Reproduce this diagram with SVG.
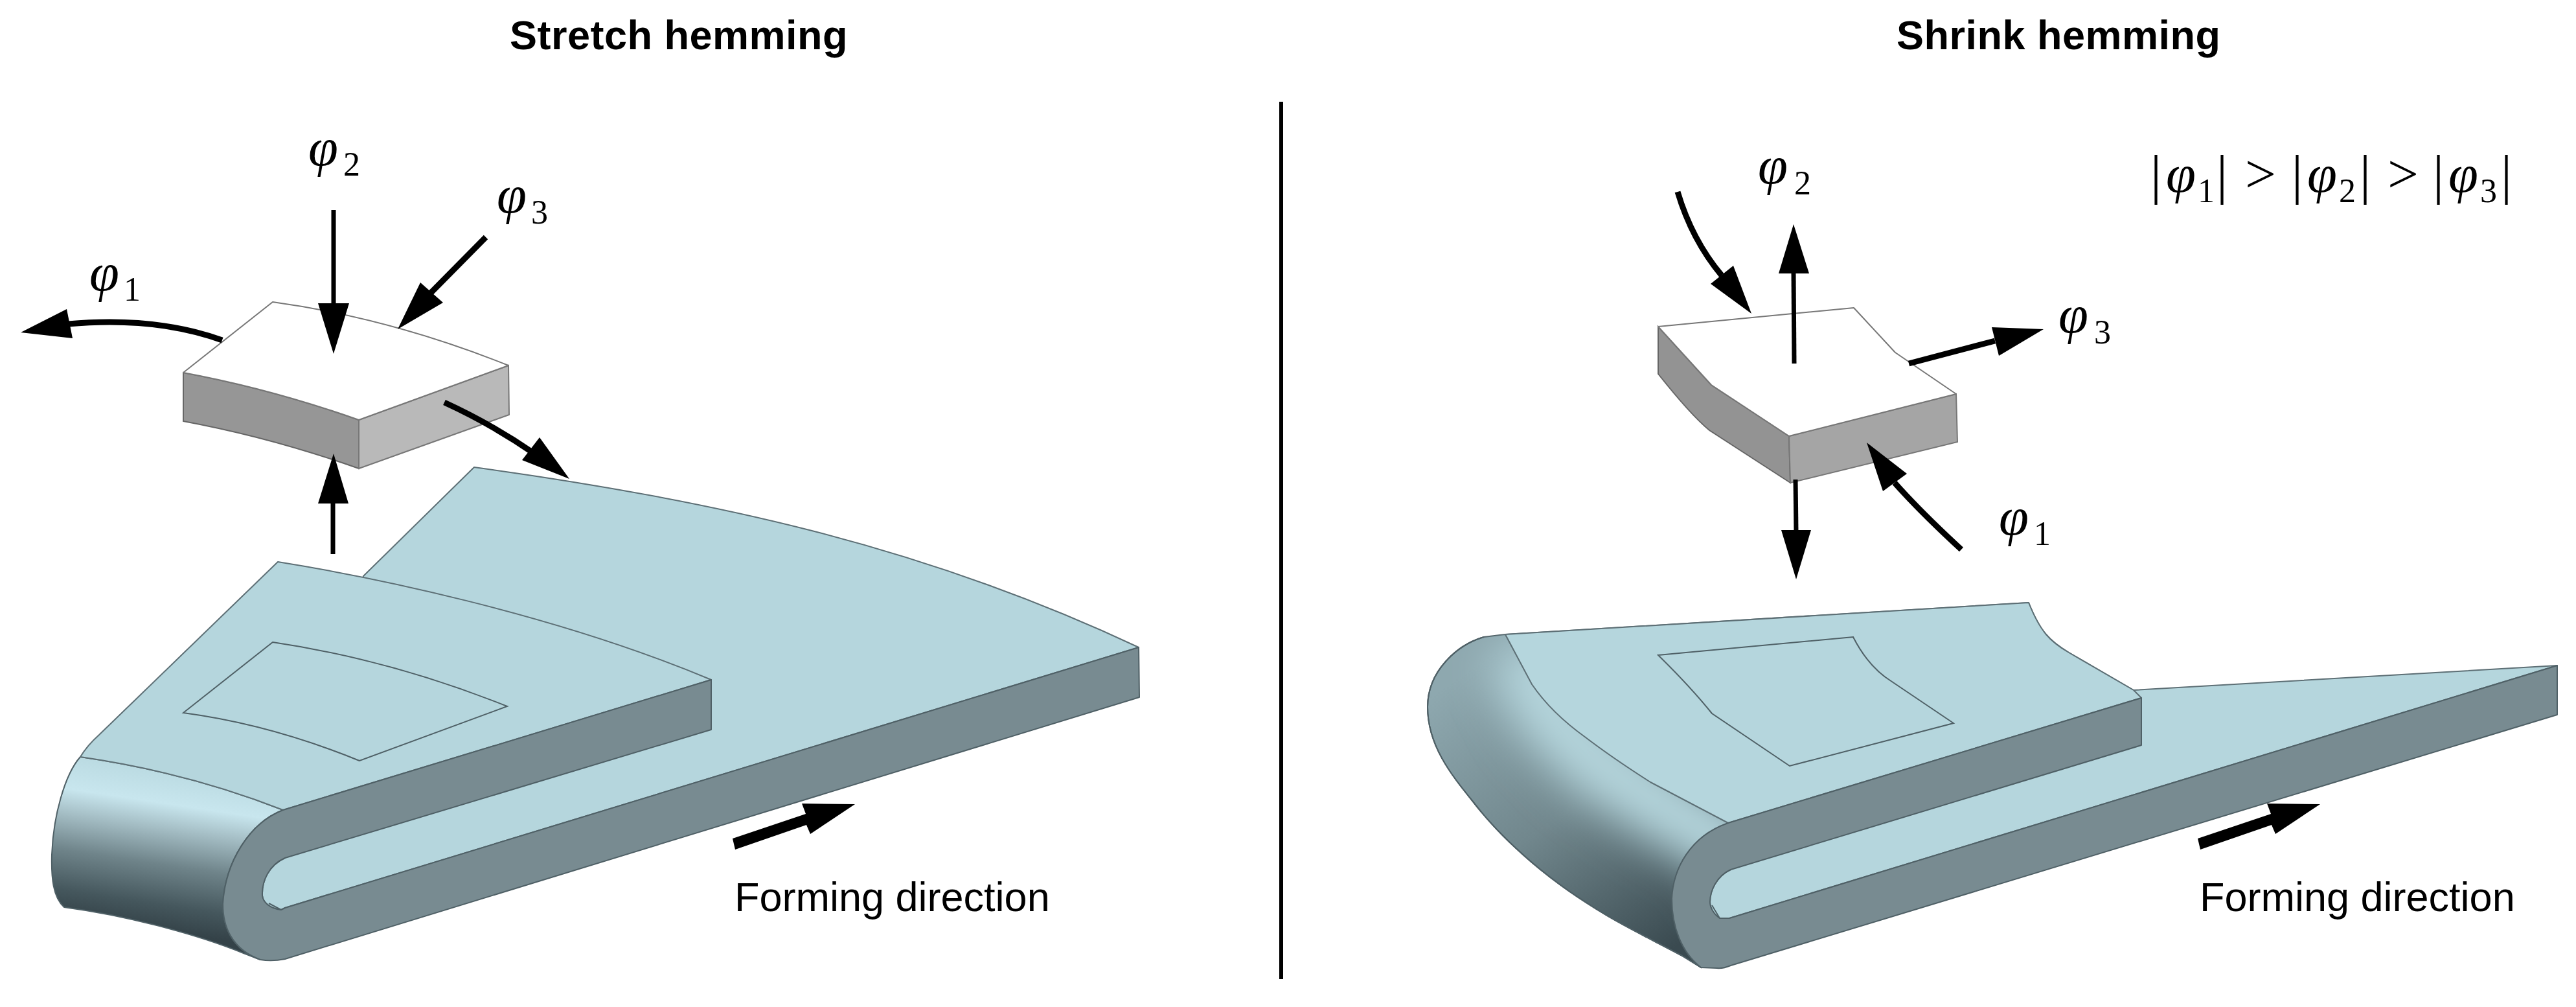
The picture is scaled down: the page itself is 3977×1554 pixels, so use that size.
<svg xmlns="http://www.w3.org/2000/svg" width="3977" height="1554" viewBox="0 0 3977 1554">
<style>
.face{fill:#b5d6dd;stroke:#5d6f75;stroke-width:2;stroke-linejoin:round}
.side{fill:#788b91;stroke:#4f6066;stroke-width:2;stroke-linejoin:round}
.edge{fill:none;stroke:#4f6066;stroke-width:2}
.blockTop{fill:#fff;stroke:#777;stroke-width:2;stroke-linejoin:round}
.shaft{fill:none;stroke:#000;stroke-width:9}
.thin{stroke-width:7}
.head{fill:#000}
.title{font:bold 63px "Liberation Sans",Arial,sans-serif;fill:#000;letter-spacing:.5px}
.label{font:63px "Liberation Sans",Arial,sans-serif;fill:#000}
.phi{font:italic 83px "Liberation Serif","Times New Roman",serif;fill:#000}
.sub{font:52px "Liberation Serif","Times New Roman",serif;fill:#000}
.rel{font:85px "Liberation Serif","Times New Roman",serif;fill:#000}
</style>
<defs>
<linearGradient id="leftShade" gradientUnits="userSpaceOnUse" x1="245" y1="1165" x2="205" y2="1430">
<stop offset="0" stop-color="#b5d6dd"/><stop offset=".27" stop-color="#c8e6ee"/><stop offset=".42" stop-color="#a3bcc3"/><stop offset=".62" stop-color="#6f848a"/><stop offset=".85" stop-color="#45575d"/><stop offset="1" stop-color="#344248"/>
</linearGradient>
<linearGradient id="rightBase" gradientUnits="userSpaceOnUse" x1="2260" y1="1040" x2="2560" y2="1480">
<stop offset="0" stop-color="#8ea8af"/><stop offset=".5" stop-color="#71878d"/><stop offset="1" stop-color="#3a4a50"/>
</linearGradient>
<filter id="soft" x="-30%" y="-30%" width="160%" height="160%"><feGaussianBlur stdDeviation="34"/></filter>
<clipPath id="rightClip"><path d="M2324,979 L2291,983 C2250,995 2204,1035 2204,1091 C2204,1150 2240,1195 2274,1237 C2305,1277 2335,1305 2365,1331 C2405,1365 2440,1388 2481,1413 C2520,1436 2560,1455 2597,1475 L2626,1493 L2620,1300 L2668,1270 L2548,1207 L2448,1138 L2365,1056 Z"/></clipPath>
</defs>

<g id="title-left"><text class="title" x="787" y="76">Stretch hemming</text></g>
<g id="title-right"><text class="title" x="2928" y="76">Shrink hemming</text></g>
<g id="divider"><line x1="1978" y1="157" x2="1978" y2="1511" stroke="#000" stroke-width="6"/></g>

<g id="stretch-part">
<path class="face" d="M732,721 C1090,770 1420,840 1758,999 L440,1401 L434,1404 C416,1402 406,1392 405,1382 C404,1360 415,1335 440,1324 L561,889 Z"/>
<path d="M124,1168 C100,1195 82,1260 80,1319 C79,1355 82,1385 99,1400 C190,1412 300,1440 376,1471 L402,1481 C358,1465 344,1430 344,1395 C348,1330 385,1270 437,1250 Q290,1192 124,1168 Z" fill="url(#leftShade)" stroke="#4f6066" stroke-width="2"/>
<path class="face" d="M429,867 C560,888 850,945 1098,1049 L437,1250 Q290,1192 124,1168 Q135,1150 153,1134 Z"/>
<path class="side" d="M437,1250 L1098,1049 L1098,1126 L440,1324 C415,1335 404,1360 405,1382 C406,1392 416,1402 434,1404 L440,1401 L1758,999 L1759,1076 L440,1480 Q420,1484 402,1481 C358,1465 344,1430 344,1395 C348,1330 385,1270 437,1250 Z"/>
<path class="edge" d="M415,1394 L434,1404"/>
<path class="edge" d="M421,991 Q603,1018 783,1090 L555,1174 Q418,1118 283,1100 Z"/>
</g>

<g id="stretch-element">
<path d="M283,575 Q418,600 554,648 L554,723 Q418,675 283,650 Z" fill="#969696" stroke="#666" stroke-width="2"/>
<path d="M554,648 L785,564 L786,640 L554,723 Z" fill="#b9b9b9" stroke="#777" stroke-width="2"/>
<path class="blockTop" d="M421,466 Q603,491 785,564 L554,648 Q418,600 283,575 Z"/>
</g>

<g id="shrink-part">
<path class="face" d="M2324,979 L3132,930 C3150,975 3165,990 3194,1007 L3294,1065 L3948,1027 L2670,1417 L2655,1417 C2645,1410 2640,1400 2640,1392 C2640,1375 2650,1352 2672,1342 Z"/>
<path d="M2324,979 L2291,983 C2250,995 2204,1035 2204,1091 C2204,1150 2240,1195 2274,1237 C2305,1277 2335,1305 2365,1331 C2405,1365 2440,1388 2481,1413 C2520,1436 2560,1455 2597,1475 L2626,1493 L2620,1300 L2668,1270 L2548,1207 L2448,1138 L2365,1056 Z" fill="url(#rightBase)" stroke="#4f6066" stroke-width="2"/>
<g clip-path="url(#rightClip)"><path d="M2345,1000 L2395,1100 L2460,1170 L2560,1240 L2680,1310 L2700,1380" fill="none" stroke="#b5d6dd" stroke-width="110" filter="url(#soft)"/></g>
<path class="side" style="fill:none" d="M2291,983 C2250,995 2204,1035 2204,1091 C2204,1150 2240,1195 2274,1237 C2305,1277 2335,1305 2365,1331 C2405,1365 2440,1388 2481,1413 C2520,1436 2560,1455 2597,1475 L2626,1493"/>
<path class="face" d="M2324,979 L3132,930 C3150,975 3165,990 3194,1007 L3294,1065 L3306,1077 L2668,1270 L2548,1207 Q2490,1170 2448,1138 Q2395,1100 2365,1056 Z"/>
<path class="side" d="M2668,1270 L3306,1077 L3306,1150 L2672,1342 C2650,1352 2640,1375 2640,1392 C2640,1400 2645,1410 2655,1417 L2670,1417 L3948,1027 L3948,1103 L2672,1490 Q2660,1495 2651,1494 L2626,1493 C2596,1470 2581,1430 2581,1387 C2583,1340 2610,1290 2668,1270 Z"/>
<path class="edge" d="M2643,1397 L2655,1417"/>
<path class="edge" d="M2560,1011 L2861,983 Q2885,1030 2921,1052 L3016,1116 L2763,1182 L2643,1101 Q2610,1060 2560,1011 Z"/>
</g>

<g id="shrink-element">
<path d="M2560,504 L2642,594 L2762,673 L2764,745 L2639,664 Q2610,640 2560,577 Z" fill="#939393" stroke="#666" stroke-width="2"/>
<path d="M2762,673 L3020,608 L3022,682 L2764,745 Z" fill="#a5a5a5" stroke="#777" stroke-width="2"/>
<path class="blockTop" d="M2560,504 L2862,475 L2926,544 L3020,608 L2762,673 L2642,594 Z"/>
</g>

<g id="connectors">
<path class="shaft thin" d="M515,324 L515,470"/><polygon class="head" points="515,546 491,468 539,468"/>
<path class="shaft" d="M750,366 L665,452"/><polygon class="head" points="614,508 649,436 684,467"/>
<path class="shaft" d="M343,525 Q240,488 105,500"/><polygon class="head" points="32,513 103,477 112,522"/>
<path class="shaft" d="M686,621 Q760,655 825,700"/><polygon class="head" points="879,739 833,675 806,710"/>
<path class="shaft thin" d="M514,855 L514,775"/><polygon class="head" points="515,700 491,777 538,777"/>
<path class="shaft" d="M2590,296 Q2612,370 2658,425"/><polygon class="head" points="2704,484 2676,410 2641,438"/>
<path class="shaft thin" d="M2770,561 L2769,420"/><polygon class="head" points="2769,346 2746,422 2793,422"/>
<path class="shaft" d="M2947,561 L3080,526"/><polygon class="head" points="3155,508 3075,505 3086,549"/>
<path class="shaft thin" d="M2772,740 L2773,820"/><polygon class="head" points="2773,894 2750,818 2796,818"/>
<path class="shaft" d="M3028,848 Q2965,790 2925,745"/><polygon class="head" points="2882,683 2944,731 2907,758"/>
<g id="forming-left"><path d="M1131,1304 L1244,1266 L1238,1250 L1320,1251 L1251,1297 L1245,1283 L1135,1321 Z" fill="#000" transform="translate(0,-10)"/></g>
<g id="forming-right"><path d="M1131,1304 L1244,1266 L1238,1250 L1320,1251 L1251,1297 L1245,1283 L1135,1321 Z" fill="#000" transform="translate(2262,-10)"/></g>
</g>

<g id="labels">
<text class="label" x="1134" y="1406">Forming direction</text>
<text class="label" x="3396" y="1406">Forming direction</text>
<text class="phi" x="476" y="255">φ</text><text class="sub" x="530" y="271">2</text>
<text class="phi" x="767" y="328">φ</text><text class="sub" x="820" y="345">3</text>
<text class="phi" x="138" y="448">φ</text><text class="sub" x="191" y="464">1</text>
<text class="phi" x="2714" y="283">φ</text><text class="sub" x="2770" y="300">2</text>
<text class="phi" x="3178" y="513">φ</text><text class="sub" x="3233" y="530">3</text>
<text class="phi" x="3086" y="825">φ</text><text class="sub" x="3140" y="841">1</text>
<g id="relation">
<text class="rel" x="3320" y="298">|</text><text class="phi" x="3344" y="296">φ</text><text class="sub" x="3393" y="312">1</text><text class="rel" x="3422" y="298">|</text>
<text class="rel" x="3466" y="297">&gt;</text>
<text class="rel" x="3538" y="298">|</text><text class="phi" x="3562" y="296">φ</text><text class="sub" x="3611" y="312">2</text><text class="rel" x="3643" y="298">|</text>
<text class="rel" x="3686" y="297">&gt;</text>
<text class="rel" x="3756" y="298">|</text><text class="phi" x="3780" y="296">φ</text><text class="sub" x="3829" y="312">3</text><text class="rel" x="3861" y="298">|</text>
</g>
</g>
</svg>
